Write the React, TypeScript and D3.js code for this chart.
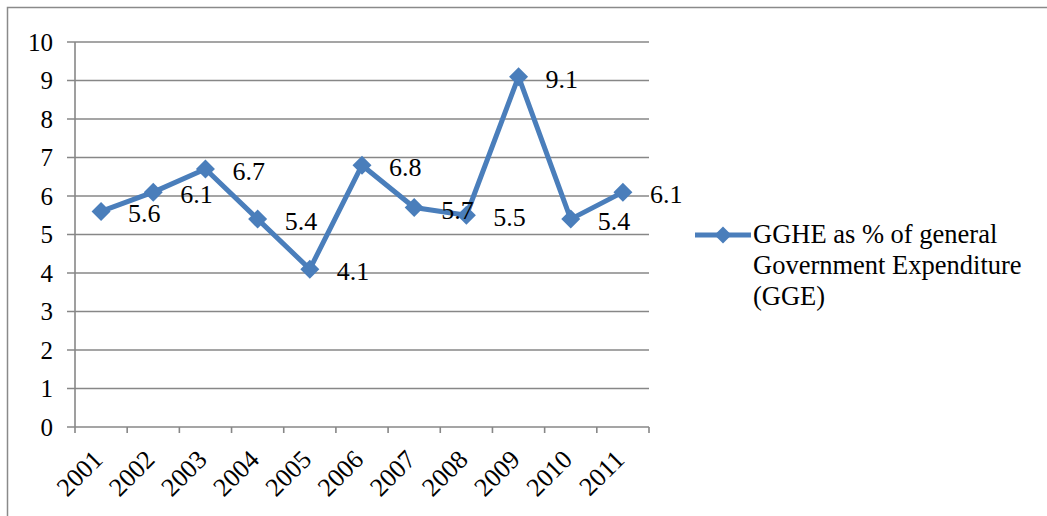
import React from "react";
import * as d3 from "d3";

// Chart data
const years = ["2001", "2002", "2003", "2004", "2005", "2006", "2007", "2008", "2009", "2010", "2011"];
const gghePct = [5.6, 6.1, 6.7, 5.4, 4.1, 6.8, 5.7, 5.5, 9.1, 5.4, 6.1];
const yTicks = [0, 1, 2, 3, 4, 5, 6, 7, 8, 9, 10];
const seriesName = ["GGHE as % of general", "Government Expenditure", "(GGE)"];

const W = 1047;
const H = 516;
const plot = { left: 75, right: 649, top: 42, bottom: 427 };
const blue = "#4a7ebb";
const grid = "#878787";
const font = '"Liberation Serif", "Times New Roman", Times, "DejaVu Serif", serif';

export default function App() {
  const x = d3.scaleBand<string>().domain(years).range([plot.left, plot.right]).padding(0);
  const y = d3.scaleLinear().domain([0, 10]).range([plot.bottom, plot.top]);
  const cx = (d: string) => (x(d) ?? 0) + x.bandwidth() / 2;

  const line = d3
    .line<number>()
    .x((_, i) => cx(years[i]))
    .y((v) => y(v));

  const diamond = (px: number, py: number, r: number) =>
    `M${px},${py - r}L${px + r},${py}L${px},${py + r}L${px - r},${py}Z`;

  const boundaries = years.map((d) => x(d) ?? 0).concat([plot.right]);
  const txt = { fontFamily: font };

  return (
    <svg
      width={W}
      height={H}
      style={{ position: "absolute", left: 0, top: 0, background: "#fff", fontFamily: font }}
    >
      {/* outer frame */}
      <rect x={7.5} y={7.5} width={1200} height={700} fill="none" stroke="#8a8a8a" strokeWidth={1.5} />

      {/* horizontal gridlines with left tick stubs */}
      {yTicks.map((t) => (
        <line key={t} x1={67} x2={plot.right} y1={y(t)} y2={y(t)} stroke={grid} strokeWidth={1.6} />
      ))}
      {/* value axis */}
      <line x1={plot.left} x2={plot.left} y1={plot.top} y2={plot.bottom} stroke={grid} strokeWidth={1.6} />
      {/* category tick marks */}
      {boundaries.map((bx, i) => (
        <line key={i} x1={bx} x2={bx} y1={plot.bottom} y2={plot.bottom + 6} stroke={grid} strokeWidth={1.6} />
      ))}

      {/* y tick labels */}
      {yTicks.map((t) => (
        <text key={t} x={53} y={y(t) + 8.5} textAnchor="end" fontSize={25} fill="#000" style={txt}>
          {t}
        </text>
      ))}

      {/* x tick labels */}
      {years.map((d) => (
        <text
          key={d}
          transform={`translate(${cx(d) + 3},${461}) rotate(-45)`}
          textAnchor="end"
          fontSize={26}
          fill="#000"
          style={txt}
        >
          {d}
        </text>
      ))}

      {/* series line */}
      <path d={line(gghePct) ?? ""} fill="none" stroke={blue} strokeWidth={5} strokeLinejoin="round" />
      {gghePct.map((v, i) => (
        <path key={i} d={diamond(cx(years[i]), y(v), 9.5)} fill={blue} />
      ))}

      {/* data labels */}
      {gghePct.map((v, i) => (
        <text key={i} x={cx(years[i]) + 27} y={y(v) + 11} fontSize={26} fill="#000" style={txt}>
          {v.toFixed(1)}
        </text>
      ))}

      {/* legend */}
      <line x1={695} x2={751} y1={235} y2={235} stroke={blue} strokeWidth={5} />
      <path d={diamond(723, 235, 8.5)} fill={blue} />
      {seriesName.map((s, i) => (
        <text key={i} x={753} y={243 + i * 31} fontSize={26.5} fill="#000" style={txt}>
          {s}
        </text>
      ))}
    </svg>
  );
}
